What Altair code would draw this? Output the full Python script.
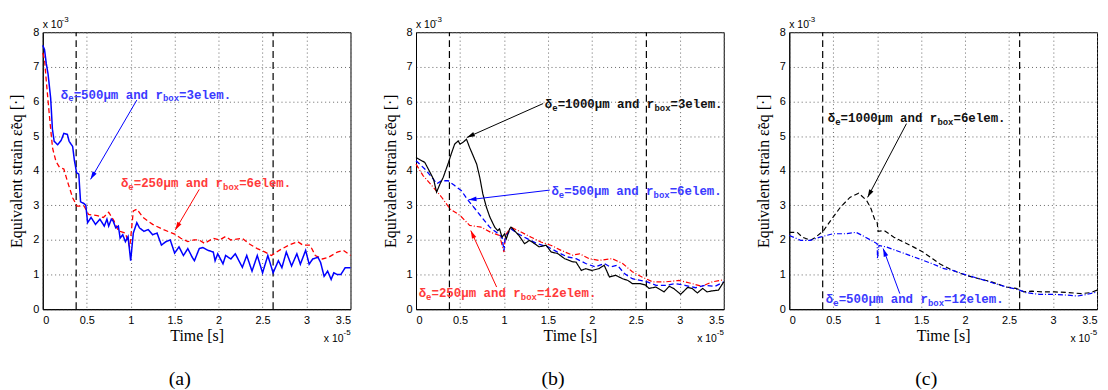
import math
import altair as alt
import pandas as pd

W, H = 310, 279
XMAX, YMAX = 3.5, 8.0

X_TICKS = [0, 0.5, 1, 1.5, 2, 2.5, 3, 3.5]
Y_TICKS = [0, 1, 2, 3, 4, 5, 6, 7, 8]
MARKER_T = [0.38, 2.62]

# ---- panel (a) ----
A_BLUE_T = [0, 0.02, 0.04, 0.06, 0.09, 0.11, 0.13, 0.17, 0.21, 0.24, 0.28, 0.30, 0.34, 0.36, 0.385, 0.41, 0.43,
            0.47, 0.49, 0.51, 0.55, 0.60, 0.65, 0.70, 0.73, 0.75, 0.78, 0.80, 0.83, 0.86, 0.88, 0.91, 0.94, 0.97,
            1.00, 1.03, 1.07, 1.10, 1.15, 1.20, 1.25, 1.30, 1.35, 1.40, 1.45, 1.50, 1.55, 1.60, 1.65, 1.70, 1.725,
            1.78, 1.82, 1.88, 1.94, 1.96, 1.99, 2.05, 2.08, 2.14, 2.19, 2.27, 2.32, 2.38, 2.44, 2.50, 2.56, 2.62,
            2.68, 2.72, 2.77, 2.83, 2.89, 2.93, 2.99, 3.03, 3.07, 3.13, 3.16, 3.20, 3.24, 3.28, 3.31, 3.35, 3.39,
            3.44, 3.50]
A_BLUE_V = [7.62, 7.5, 7.1, 6.8, 6.1, 5.2, 4.85, 4.75, 4.88, 5.08, 5.05, 4.85, 4.7, 4.3, 3.94, 3.9, 3.1,
            3.05, 3.0, 2.5, 2.65, 2.45, 2.6, 2.4, 2.6, 2.4, 2.6, 2.55, 2.35, 2.4, 2.05, 2.15, 1.95, 2.1,
            1.4, 2.2, 2.5, 2.35, 2.25, 2.3, 2.15, 2.2, 1.85, 1.95, 2.0, 1.62, 1.8, 1.55, 1.75, 1.5, 1.4,
            1.75, 1.78, 1.7, 1.65, 1.4, 1.6, 1.31, 1.55, 1.45, 1.6, 1.21, 1.55, 1.1, 1.55, 1.05, 1.55, 1.05,
            1.4, 1.2, 1.65, 1.25, 1.6, 1.3, 1.7, 1.3, 1.45, 1.5, 1.35, 0.95, 1.1, 0.86, 1.05, 1.0, 1.0,
            1.2, 1.2]
A_RED_T = [0, 0.02, 0.04, 0.075, 0.093, 0.112, 0.15, 0.19, 0.24, 0.28, 0.34, 0.39, 0.47, 0.52, 0.62, 0.69,
           0.75, 0.81, 0.86, 0.94, 0.99, 1.03, 1.07, 1.14, 1.25, 1.37, 1.50, 1.57, 1.65, 1.72, 1.78, 1.84, 1.94,
           2.01, 2.08, 2.14, 2.27, 2.34, 2.44, 2.53, 2.60, 2.69, 2.80, 2.90, 2.96, 3.04, 3.10, 3.18, 3.25, 3.35,
           3.42, 3.50]
A_RED_V = [7.4, 7.23, 6.6, 5.61, 5.13, 4.65, 4.27, 4.1, 4.05, 3.7, 3.22, 2.98, 2.98, 2.74, 2.7, 2.65,
           2.8, 2.55, 2.26, 2.2, 1.79, 2.84, 2.89, 2.65, 2.45, 2.3, 2.17, 2.05, 1.95, 2.0, 2.0, 1.9, 2.05,
           2.0, 2.1, 2.0, 2.05, 1.9, 1.75, 1.65, 1.55, 1.7, 1.85, 1.95, 1.85, 1.85, 1.55, 1.45, 1.5, 1.65,
           1.7, 1.55]

# ---- panel (b) ----
B_BLACK_T = [0, 0.10, 0.16, 0.20, 0.234, 0.27, 0.31, 0.37, 0.40, 0.44, 0.48, 0.50, 0.535, 0.574, 0.61, 0.65,
             0.69, 0.725, 0.76, 0.80, 0.84, 0.895, 0.93, 0.95, 0.978, 1.008, 1.027, 1.065, 1.08, 1.12, 1.17,
             1.235, 1.29, 1.35, 1.40, 1.48, 1.537, 1.61, 1.69, 1.78, 1.82, 1.88, 1.93, 2.00, 2.08, 2.14, 2.20,
             2.27, 2.35, 2.41, 2.46, 2.55, 2.61, 2.65, 2.73, 2.82, 2.88, 2.93, 3.01, 3.09, 3.14, 3.20, 3.26,
             3.31, 3.37, 3.44, 3.50]
B_BLACK_V = [4.38, 4.24, 3.95, 3.75, 3.38, 3.6, 3.81, 4.24, 4.48, 4.77, 4.86, 4.77, 4.82, 4.91, 4.67, 4.43,
             4.19, 3.81, 3.33, 2.95, 2.66, 2.37, 2.27, 2.32, 2.08, 2.18, 2.03, 2.32, 2.37, 2.27, 2.13,
             1.89, 1.99, 1.89, 1.8, 1.85, 1.65, 1.61, 1.46, 1.37, 1.36, 1.12, 1.17, 1.12, 1.17, 1.27, 0.93,
             0.98, 0.88, 0.83, 0.74, 0.74, 0.7, 0.6, 0.64, 0.5, 0.66, 0.6, 0.43, 0.63, 0.6, 0.47, 0.6,
             0.5, 0.53, 0.55, 0.79]
B_BLUE_T = [0, 0.10, 0.18, 0.234, 0.29, 0.366, 0.44, 0.517, 0.593, 0.687, 0.762, 0.838, 0.914, 0.978, 1.0,
            1.015, 1.08, 1.16, 1.27, 1.38, 1.50, 1.61, 1.72, 1.82, 1.93, 2.04, 2.14, 2.21, 2.29, 2.37, 2.46,
            2.55, 2.63, 2.73, 2.84, 2.95, 3.06, 3.18, 3.29, 3.40, 3.50]
B_BLUE_V = [4.29, 4.05, 3.81, 3.62, 3.71, 3.71, 3.57, 3.42, 3.14, 2.85, 2.61, 2.37, 2.22, 2.08, 1.7,
            2.08, 2.32, 2.18, 2.03, 1.89, 1.8, 1.65, 1.51, 1.46, 1.32, 1.22, 1.32, 1.22, 1.27, 1.03, 0.88,
            0.83, 0.79, 0.69, 0.69, 0.74, 0.69, 0.62, 0.69, 0.66, 0.79]
B_RED_T = [0, 0.08, 0.18, 0.29, 0.385, 0.50, 0.61, 0.74, 0.85, 0.95, 1.0, 1.015, 1.08, 1.20, 1.31, 1.42,
           1.54, 1.65, 1.78, 1.86, 1.97, 2.08, 2.23, 2.35, 2.46, 2.57, 2.69, 2.84, 2.99, 3.14, 3.25, 3.37, 3.50]
B_RED_V = [4.19, 3.86, 3.57, 3.24, 2.9, 2.71, 2.42, 2.37, 2.22, 2.13, 1.65, 2.13, 2.37, 2.22, 2.08, 1.94,
           1.84, 1.7, 1.56, 1.6, 1.46, 1.41, 1.46, 1.32, 1.08, 0.93, 0.79, 0.79, 0.83, 0.74, 0.66, 0.79, 0.85]

# ---- panel (c) ----
C_BLACK_T = [0, 0.09, 0.15, 0.24, 0.30, 0.39, 0.47, 0.58, 0.69, 0.79, 0.88, 0.93, 0.97, 1.0, 1.01, 1.08,
             1.19, 1.30, 1.41, 1.52, 1.63, 1.71, 1.86, 2.01, 2.16, 2.30, 2.47, 2.58, 2.67, 2.76, 2.88, 3.02,
             3.17, 3.32, 3.43, 3.50]
C_BLACK_V = [2.22, 2.22, 2.08, 1.99, 2.08, 2.27, 2.56, 2.94, 3.23, 3.35, 3.14, 2.9, 2.6, 2.5, 2.25, 2.27,
             2.08, 1.94, 1.8, 1.65, 1.46, 1.31, 1.12, 0.98, 0.88, 0.79, 0.64, 0.6, 0.5, 0.52, 0.5, 0.5,
             0.48, 0.45, 0.48, 0.55]
C_BLUE_T = [0, 0.13, 0.24, 0.35, 0.50, 0.65, 0.76, 0.83, 0.93, 1.0, 1.003, 1.02, 1.10, 1.21, 1.32, 1.47,
            1.63, 1.76, 1.86, 2.01, 2.16, 2.30, 2.47, 2.60, 2.69, 2.84, 2.99, 3.14, 3.28, 3.39, 3.50]
C_BLUE_V = [2.13, 1.99, 1.99, 2.08, 2.18, 2.18, 2.22, 2.13, 1.99, 1.89, 1.46, 1.84, 1.8, 1.7, 1.6, 1.46,
            1.31, 1.17, 1.12, 0.99, 0.88, 0.77, 0.64, 0.57, 0.48, 0.43, 0.43, 0.41, 0.38, 0.43, 0.5]

# annotations: text anchor (x, y), delta_e, r_box, colour, arrow tail (x, y), arrow head (x, y)
A_NOTES = [(0.206, 6.20, "500", "3", "blue", 1.07, 6.04, 0.544, 3.75),
           (0.889, 3.65, "250", "6", "red", 1.78, 3.46, 1.508, 2.29)]
B_NOTES = [(1.465, 5.92, "1000", "3", "black", 1.446, 5.94, 0.578, 4.96),
           (1.540, 3.40, "500", "6", "blue", 1.521, 3.44, 0.597, 3.16),
           (0.030, 0.47, "250", "12", "red", 0.917, 0.64, 0.623, 2.27)]
C_NOTES = [(0.438, 5.53, "1000", "6", "black", 1.333, 5.36, 0.891, 3.23),
           (0.416, 0.29, "500", "12", "blue", 1.257, 0.45, 1.068, 1.75)]

COLORS = {"blue": "#0000ff", "red": "#ff0000", "black": "#000000"}
TEXT_COLORS = {"blue": "#3a3aff", "red": "#ff3a3a", "black": "#111111"}
SOLID = [1, 0]
DASH = [5, 3]
DASHDOT = [5, 2, 1, 2]

MAIN_FS, SUB_FS = 12.5, 9
MAIN_CW, SUB_CW = 0.6 * MAIN_FS, 0.6 * SUB_FS
ARROW_PATH = "M0,0L0.5,1.7L-0.5,1.7Z"

xscale = alt.Scale(domain=[0, XMAX], nice=False, zero=False)
yscale = alt.Scale(domain=[0, YMAX], nice=False, zero=False)
xaxis = alt.Axis(values=X_TICKS, format="~g", grid=True, ticks=False, labelPadding=5, titlePadding=3)
yaxis = alt.Axis(values=Y_TICKS, format="d", grid=True, ticks=False, labelPadding=4, titlePadding=8)
XT = "Time [s]"
YT = "Equivalent strain ε\u0303eq [·]"


def ex(f):
    return alt.X(f, type="quantitative", scale=xscale, axis=xaxis, title=XT)


def ey(f):
    return alt.Y(f, type="quantitative", scale=yscale, axis=yaxis, title=YT)


def line_layer(t, v, color, dash, width=1.3):
    assert len(t) == len(v)
    df = pd.DataFrame({"t": t, "v": v})
    return alt.Chart(df).mark_line(color=COLORS[color], strokeDash=dash, strokeWidth=width).encode(
        x=ex("t"), y=ey("v"))


def note_layers(notes):
    main_rows, sub_rows, arrows = [], [], []
    for (x0, y0, dval, box, col, ax1, ay1, ax2, ay2) in notes:
        pieces = [("δ", False), ("e", True), ("=%sμm and r" % dval, False), ("box", True),
                  ("=%selem." % box, False)]
        off = 0.0
        for txt, sub in pieces:
            row = {"x": x0 + off * XMAX / W, "y": y0, "s": txt, "c": TEXT_COLORS[col]}
            (sub_rows if sub else main_rows).append(row)
            off += len(txt) * (SUB_CW if sub else MAIN_CW)
        dxp = (ax2 - ax1) / XMAX * W
        dyp = -(ay2 - ay1) / YMAX * H
        ang = math.degrees(math.atan2(dxp, -dyp)) % 360
        arrows.append({"x1": ax1, "y1": ay1, "x2": ax2, "y2": ay2, "ang": ang, "c": COLORS[col]})
    mdf, sdf, adf = pd.DataFrame(main_rows), pd.DataFrame(sub_rows), pd.DataFrame(arrows)
    main = alt.Chart(mdf).mark_text(align="left", baseline="middle", font="Liberation Mono",
                                    fontSize=MAIN_FS, fontWeight="bold").encode(
        x=ex("x"), y=ey("y"), text="s:N", color=alt.Color("c:N", scale=None))
    sub = alt.Chart(sdf).mark_text(align="left", baseline="middle", font="Liberation Mono",
                                   fontSize=SUB_FS, fontWeight="bold", dy=4).encode(
        x=ex("x"), y=ey("y"), text="s:N", color=alt.Color("c:N", scale=None))
    shaft = alt.Chart(adf).mark_rule(strokeWidth=1).encode(
        x=ex("x1"), y=ey("y1"), x2=alt.X2("x2"), y2=alt.Y2("y2"), color=alt.Color("c:N", scale=None))
    head = alt.Chart(adf).mark_point(shape=ARROW_PATH, filled=True, size=90, opacity=1).encode(
        x=ex("x2"), y=ey("y2"), angle=alt.Angle("ang:Q", scale=None), color=alt.Color("c:N", scale=None))
    return [shaft, head, main, sub]


def fixed_text(s, x, y, size, align="left", font="Liberation Sans"):
    return alt.Chart(pd.DataFrame({"s": [s]})).mark_text(
        align=align, baseline="middle", font=font, fontSize=size, color="black").encode(
        x=alt.value(x), y=alt.value(y), text="s:N")


def panel(lines, notes, letter):
    mk = pd.DataFrame({"t": MARKER_T, "y0": [0, 0], "y1": [YMAX, YMAX]})
    rules = alt.Chart(mk).mark_rule(color="black", strokeDash=[7, 4], strokeWidth=1.2).encode(
        x=ex("t"), y=ey("y0"), y2=alt.Y2("y1"))
    layers = [rules] + [line_layer(*l) for l in lines] + note_layers(notes)
    layers += [
        fixed_text("x 10", 0, -7, 10.5),
        fixed_text("-3", 19, -12, 8),
        fixed_text("x 10", W - 7, H + 30, 10.5, align="right"),
        fixed_text("-5", W - 7, H + 24, 8),
        fixed_text(letter, W / 2 - 17, H + 70, 20, align="center", font="Liberation Serif"),
    ]
    return alt.layer(*layers).properties(width=W, height=H)


pa = panel([(A_RED_T, A_RED_V, "red", DASH, 1.3), (A_BLUE_T, A_BLUE_V, "blue", SOLID, 1.5)], A_NOTES, "(a)")
pb = panel([(B_RED_T, B_RED_V, "red", DASHDOT, 1.2), (B_BLUE_T, B_BLUE_V, "blue", DASH, 1.3),
            (B_BLACK_T, B_BLACK_V, "black", SOLID, 1.2)], B_NOTES, "(b)")
pc = panel([(C_BLACK_T, C_BLACK_V, "black", DASH, 1.2), (C_BLUE_T, C_BLUE_V, "blue", DASHDOT, 1.2)],
           C_NOTES, "(c)")

chart = alt.hconcat(pa, pb, pc, spacing=66, bounds="flush").configure_view(
    stroke="black", strokeWidth=1
).configure_axis(
    domainColor="black", domainWidth=1,
    gridColor="#666666", gridDash=[1, 3], gridWidth=1, gridOpacity=1,
    labelFont="Liberation Sans", labelFontSize=11, labelColor="black",
    titleFont="Liberation Serif", titleFontSize=16, titleFontWeight="normal", titleColor="black",
).properties(padding={"left": 0, "top": 6, "right": 0, "bottom": 0})

chart.save("out.html", embed_options={"renderer": "svg", "actions": False})
